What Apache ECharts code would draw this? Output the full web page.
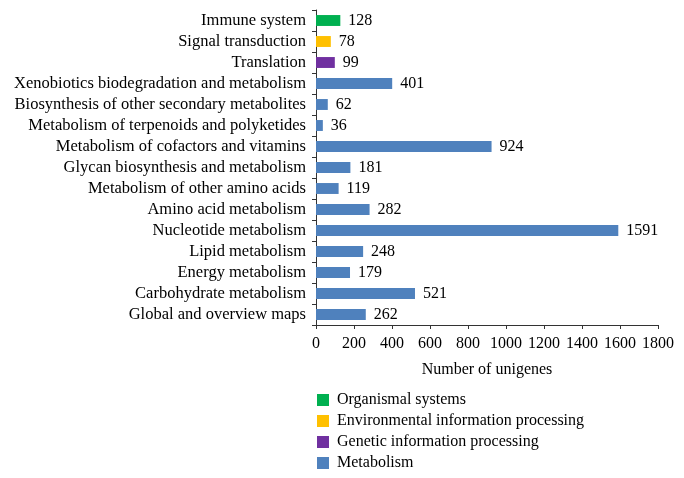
<!DOCTYPE html>
<html><head><meta charset="utf-8">
<script src="https://cdn.jsdelivr.net/npm/echarts@6/dist/echarts.min.js"></script>
<style>html,body{margin:0;padding:0;background:#fff}#c{width:684px;height:478px}</style>
</head><body><div id="c"></div>
<script>
const categories = ["Immune system","Signal transduction","Translation","Xenobiotics biodegradation and metabolism","Biosynthesis of other secondary metabolites","Metabolism of terpenoids and polyketides","Metabolism of cofactors and vitamins","Glycan biosynthesis and metabolism","Metabolism of other amino acids","Amino acid metabolism","Nucleotide metabolism","Lipid metabolism","Energy metabolism","Carbohydrate metabolism","Global and overview maps"];
const values = [128,78,99,401,62,36,924,181,119,282,1591,248,179,521,262];
const groups = ["Organismal systems","Environmental information processing","Genetic information processing"].concat(Array(12).fill("Metabolism"));
const groupNames = ["Organismal systems","Environmental information processing","Genetic information processing","Metabolism"];
const groupColors = ["#00b050","#ffc000","#7030a0","#4f81bd"];
const xTicks = [0,200,400,600,800,1000,1200,1400,1600,1800];

const font = "Liberation Serif";
const fs = 16;
const series = groupNames.map((g,gi)=>({
  name:g, type:'bar', stack:'t', barWidth:'52%',
  itemStyle:{color:groupColors[gi]},
  label:{show:true,position:'right',distance:8,color:'#000',fontFamily:font,fontSize:fs,
    formatter:p=>p.value==='-'?'':String(p.value)},
  data: values.map((v,i)=>groups[i]===g?v:'-')
}));
const chart = echarts.init(document.getElementById('c'));
chart.setOption({
  animation:false,
  textStyle:{fontFamily:font},
  grid:{left:316,top:10,width:342,height:315,containLabel:false},
  legend:{orient:'vertical',left:312,top:387,width:360,height:100,itemWidth:12,itemHeight:12,itemGap:5,icon:'rect',
    data:groupNames,textStyle:{fontFamily:font,fontSize:fs,color:'#000',padding:[0,0,0,3]},selectedMode:false},
  xAxis:{type:'value',min:xTicks[0],max:xTicks[xTicks.length-1],interval:200,
    splitLine:{show:false},
    axisLine:{show:true,lineStyle:{color:'#333'}},
    axisTick:{show:true,length:4,lineStyle:{color:'#333'}},
    axisLabel:{color:'#000',fontFamily:font,fontSize:fs,margin:11,formatter:v=>String(v)},
    name:'Number of unigenes',nameLocation:'middle',nameGap:37,
    nameTextStyle:{color:'#000',fontFamily:font,fontSize:fs}},
  yAxis:{type:'category',data:categories,inverse:true,
    axisLine:{show:true,lineStyle:{color:'#333'}},
    axisTick:{show:true,length:4,lineStyle:{color:'#333'}},
    axisLabel:{color:'#000',fontFamily:font,fontSize:16.5,margin:10,interval:0,hideOverlap:false}},
  series
});
</script></body></html>
